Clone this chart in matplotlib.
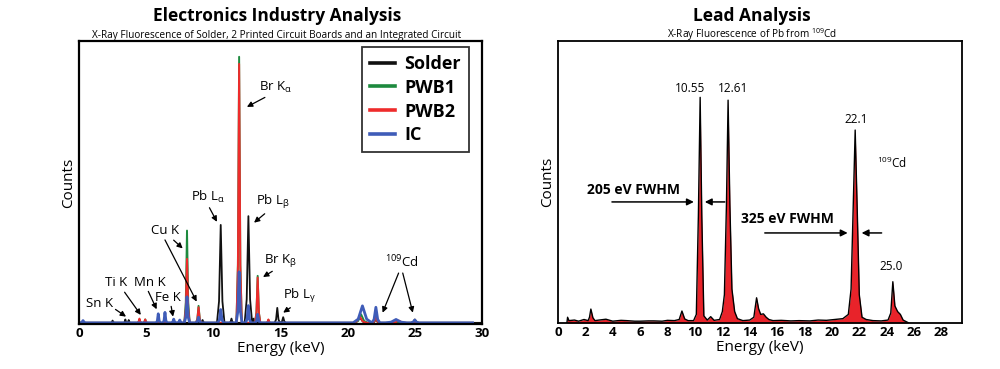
import matplotlib
matplotlib.use("Agg")
import matplotlib.pyplot as plt

plt.rcParams["font.family"] = ["Open Sans", "DejaVu Sans"]
plt.rcParams["mathtext.fontset"] = "custom"
plt.rcParams["mathtext.rm"] = "Open Sans"
plt.rcParams["mathtext.it"] = "Open Sans"
plt.rcParams["mathtext.bf"] = "Open Sans:bold"

# ---- left panel: peaks per sample (centre keV, height % of axis, half-width keV)
SOLDER_KEV = [2.5, 3.45, 3.7, 9.2, 10.55, 11.35, 12.61, 13.0, 14.76, 15.2, 20.9, 22.1, 25.0]
SOLDER_H = [0.8, 1.2, 1.0, 1.0, 34.6, 1.5, 37.7, 1.5, 5.3, 2.0, 2.0, 1.5, 1.2]
SOLDER_W = [0.15, 0.12, 0.12, 0.15, 0.28, 0.15, 0.28, 0.15, 0.2, 0.2, 0.5, 0.25, 0.3]

PWB1_KEV = [4.5, 4.93, 8.04, 8.9, 11.92, 13.3, 14.1, 21.0, 22.1]
PWB1_H = [1.2, 1.2, 32.6, 6.0, 94.0, 16.6, 1.0, 3.0, 2.5]
PWB1_W = [0.15, 0.15, 0.2, 0.2, 0.2, 0.2, 0.15, 0.5, 0.25]

PWB2_KEV = [4.5, 4.93, 8.04, 8.9, 11.92, 13.3, 14.1, 20.9, 22.1, 23.8]
PWB2_H = [1.5, 1.2, 22.6, 5.5, 91.5, 16.0, 1.2, 2.3, 2.2, 0.8]
PWB2_W = [0.15, 0.15, 0.2, 0.2, 0.2, 0.2, 0.15, 0.5, 0.25, 0.6]

IC_KEV = [0.3, 5.9, 6.4, 7.05, 7.5, 8.04, 8.9, 10.55, 11.92, 12.6, 13.3, 21.1, 22.1, 23.6, 25.0]
IC_H = [0.8, 3.2, 3.7, 1.3, 1.0, 9.2, 2.0, 4.7, 18.0, 6.1, 3.0, 6.0, 5.5, 1.2, 1.0]
IC_W = [0.2, 0.15, 0.15, 0.15, 0.15, 0.2, 0.2, 0.22, 0.22, 0.2, 0.2, 0.7, 0.3, 0.8, 0.3]

# ---- right panel: Pb spectrum read point by point (keV, % of axis)
PB_KEV = [0.65, 0.7, 0.8, 1.2, 1.5, 1.9, 2.2, 2.3, 2.4, 2.55, 2.7, 3.0, 3.5, 4.0, 4.6,
          5.0, 5.6, 6.0, 6.6, 7.0, 7.6, 8.0, 8.5, 8.85, 9.05, 9.25, 9.5, 9.9, 10.1,
          10.25, 10.38, 10.5, 10.65, 10.9, 11.15, 11.4, 11.8, 12.0, 12.15, 12.3, 12.42,
          12.55, 12.7, 12.9, 13.1, 13.5, 14.0, 14.3, 14.5, 14.65, 14.8, 15.0, 15.2, 15.4,
          15.7, 16.3, 17.0, 17.6, 18.4, 19.0, 19.6, 20.2, 20.8, 21.2, 21.4, 21.55, 21.7,
          21.85, 22.0, 22.2, 22.5, 23.0, 23.6, 24.1, 24.3, 24.45, 24.6, 24.8, 25.0, 25.2,
          25.4, 25.6]
PB_H = [0.0, 2.0, 0.8, 1.0, 0.6, 1.2, 0.8, 2.0, 4.9, 1.8, 0.8, 1.0, 1.3, 0.6, 0.9,
        0.8, 0.6, 0.6, 0.7, 0.7, 0.6, 0.9, 0.8, 1.2, 4.2, 1.4, 0.8, 0.8, 3.0,
        38.0, 80.0, 38.0, 2.5, 1.0, 2.2, 0.9, 1.2, 4.0, 10.0, 42.0, 79.0,
        42.0, 12.0, 4.0, 1.5, 0.8, 1.0, 2.0, 8.9, 5.0, 3.0, 3.2, 2.0, 1.2,
        0.8, 0.9, 0.7, 0.8, 0.7, 1.0, 0.9, 1.2, 1.5, 3.0, 12.0, 40.0, 68.4,
        40.0, 10.0, 2.0, 1.2, 0.8, 0.7, 1.0, 3.5, 14.6, 6.0, 4.0, 3.0, 1.0,
        0.5, 0.0]

LEFT_TICKS = [0, 5, 10, 15, 20, 25, 30]
RIGHT_TICKS = list(range(0, 30, 2))

BLACK, GREEN, RED, BLUE = "#111111", "#1d8a3e", "#ee2b2b", "#3f5cb8"


def outline(centres, heights, widths, start, stop, base=0.4):
    xs, ys = [start], [base]
    for c, h, w in sorted(zip(centres, heights, widths)):
        xs += [c - w, c - 0.45 * w, c, c + 0.45 * w, c + w]
        ys += [base, base + 0.22 * h, base + h, base + 0.22 * h, base]
    xs.append(stop)
    ys.append(base)
    return xs, ys


fig = plt.figure(figsize=(10, 3.69), dpi=100)
axL = fig.add_axes([0.079, 0.122, 0.403, 0.767])
axR = fig.add_axes([0.558, 0.125, 0.404, 0.764])

# ---------------- left panel
series = [("Solder", SOLDER_KEV, SOLDER_H, SOLDER_W, BLACK, 1.3, 30.0),
          ("PWB1", PWB1_KEV, PWB1_H, PWB1_W, GREEN, 1.4, 29.3),
          ("PWB2", PWB2_KEV, PWB2_H, PWB2_W, RED, 1.4, 29.3),
          ("IC", IC_KEV, IC_H, IC_W, BLUE, 2.0, 29.3)]
for name, c, h, w, col, lw, stop in series:
    xs, ys = outline(c, h, w, 0.0, stop)
    axL.plot(xs, ys, color=col, lw=lw, label=name, solid_joinstyle="round")

tick_fs = 9.5
axis_fs = 11
axL.set_xlim(0, 30)
axL.set_ylim(0, 100)
axL.set_xticks(LEFT_TICKS)
axL.set_yticks([])
axL.tick_params(axis="x", length=0, pad=2, labelsize=tick_fs)
for t in axL.get_xticklabels():
    t.set_fontweight("bold")
axL.set_xlabel("Energy (keV)", fontsize=axis_fs, labelpad=1)
axL.set_ylabel("Counts", fontsize=axis_fs, labelpad=2)
for s in axL.spines.values():
    s.set_linewidth(1.6)

leg = axL.legend(loc="upper right", bbox_to_anchor=(0.968, 0.979),
                 prop={"weight": "bold", "size": 13}, frameon=True, fancybox=False,
                 edgecolor="black", handlelength=1.4, handletextpad=0.5,
                 labelspacing=0.32, borderpad=0.45, borderaxespad=0)
leg.get_frame().set_linewidth(1.3)
for line in leg.get_lines():
    line.set_linewidth(2.6)

arrow = dict(arrowstyle="-|>", color="black", lw=0.9, mutation_scale=8,
             shrinkA=0, shrinkB=0)
ann_fs = 9.5
axL.annotate("Br K$_{\\alpha}$", xy=(12.5, 76.7), xytext=(14.6, 83.7), fontsize=ann_fs,
             ha="center", va="center", arrowprops=dict(arrow, relpos=(0.35, 0.0)))
axL.annotate("Pb L$_{\\alpha}$", xy=(10.27, 36.1), xytext=(9.6, 44.9), fontsize=ann_fs,
             ha="center", va="center", arrowprops=dict(arrow, relpos=(0.5, 0.0)))
axL.annotate("Pb L$_{\\beta}$", xy=(13.03, 35.8), xytext=(14.45, 43.1), fontsize=ann_fs,
             ha="center", va="center", arrowprops=dict(arrow, relpos=(0.35, 0.0)))
axL.annotate("Cu K", xy=(7.72, 26.7), xytext=(6.4, 32.9), fontsize=ann_fs,
             ha="center", va="center", arrowprops=dict(arrow, relpos=(0.7, 0.0)))
axL.annotate("", xy=(8.76, 7.9), xytext=(6.4, 29.7), arrowprops=arrow)
axL.annotate("Br K$_{\\beta}$", xy=(13.7, 16.6), xytext=(14.97, 22.6), fontsize=ann_fs,
             ha="center", va="center", arrowprops=dict(arrow, relpos=(0.4, 0.0)))
axL.annotate("Pb L$_{\\gamma}$", xy=(15.2, 4.0), xytext=(16.4, 9.9), fontsize=ann_fs,
             ha="center", va="center", arrowprops=dict(arrow, relpos=(0.35, 0.0)))
axL.annotate("Ti K", xy=(4.6, 3.2), xytext=(2.75, 14.5), fontsize=ann_fs,
             ha="center", va="center", arrowprops=dict(arrow, relpos=(0.8, 0.0)))
axL.annotate("Mn K", xy=(5.78, 5.2), xytext=(5.3, 14.8), fontsize=ann_fs,
             ha="center", va="center", arrowprops=dict(arrow, relpos=(0.4, 0.0)))
axL.annotate("Fe K", xy=(7.0, 2.6), xytext=(6.63, 9.5), fontsize=ann_fs,
             ha="center", va="center", arrowprops=dict(arrow, relpos=(0.6, 0.0)))
axL.annotate("Sn K", xy=(3.5, 2.6), xytext=(1.5, 7.2), fontsize=ann_fs,
             ha="center", va="center", arrowprops=dict(arrow, relpos=(1.0, 0.2)))
axL.annotate("$^{109}$Cd", xy=(22.6, 4.0), xytext=(24.0, 21.9), fontsize=ann_fs,
             ha="center", va="center", arrowprops=dict(arrow, relpos=(0.45, 0.0)))
axL.annotate("", xy=(24.85, 4.0), xytext=(24.1, 18.0), arrowprops=arrow)

# ---------------- right panel
axR.fill_between(PB_KEV, 0, PB_H, color="#e8232a", lw=0)
axR.plot(PB_KEV, PB_H, color="black", lw=1.0)
axR.set_xlim(0, 29.5)
axR.set_ylim(0, 100)
axR.set_xticks(RIGHT_TICKS)
axR.set_yticks([])
axR.tick_params(axis="x", length=0, pad=2, labelsize=tick_fs)
for t in axR.get_xticklabels():
    t.set_fontweight("bold")
axR.set_xlabel("Energy (keV)", fontsize=axis_fs, labelpad=1)
axR.set_ylabel("Counts", fontsize=axis_fs, labelpad=2)
for s in axR.spines.values():
    s.set_linewidth(1.3)

lbl_fs = 8.5
axR.text(9.63, 83.3, "10.55", fontsize=lbl_fs, ha="center", va="center")
axR.text(12.76, 83.0, "12.61", fontsize=lbl_fs, ha="center", va="center")
axR.text(21.8, 72.3, "22.1", fontsize=lbl_fs, ha="center", va="center")
axR.text(24.3, 19.9, "25.0", fontsize=lbl_fs, ha="center", va="center")
axR.text(24.4, 56.7, "$^{109}$Cd", fontsize=lbl_fs, ha="center", va="center")

axR.text(5.54, 47.2, "205 eV FWHM", fontsize=10, fontweight="bold", ha="center", va="center")
axR.text(16.78, 36.9, "325 eV FWHM", fontsize=10, fontweight="bold", ha="center", va="center")
fwhm_arrow = dict(arrow, lw=1.1, mutation_scale=10)
axR.annotate("", xy=(9.92, 42.9), xytext=(3.94, 42.9), arrowprops=fwhm_arrow)
axR.annotate("", xy=(10.72, 42.9), xytext=(12.18, 42.9), arrowprops=fwhm_arrow)
axR.annotate("", xy=(21.15, 31.9), xytext=(15.1, 31.9), arrowprops=fwhm_arrow)
axR.annotate("", xy=(22.17, 31.9), xytext=(23.63, 31.9), arrowprops=fwhm_arrow)

# ---------------- titles
fig.text(0.277, 0.942, "Electronics Industry Analysis", fontsize=12.5, fontweight="bold",
         ha="center", va="baseline")
fig.text(0.277, 0.898, "X-Ray Fluorescence of Solder, 2 Printed Circuit Boards and an Integrated Circuit",
         fontsize=7.2, ha="center", va="baseline")
fig.text(0.752, 0.942, "Lead Analysis", fontsize=12.5, fontweight="bold", ha="center", va="baseline")
fig.text(0.752, 0.898, "X-Ray Fluorescence of Pb from $^{109}$Cd",
         fontsize=7.2, ha="center", va="baseline")

fig.savefig("out.png", dpi=100)
